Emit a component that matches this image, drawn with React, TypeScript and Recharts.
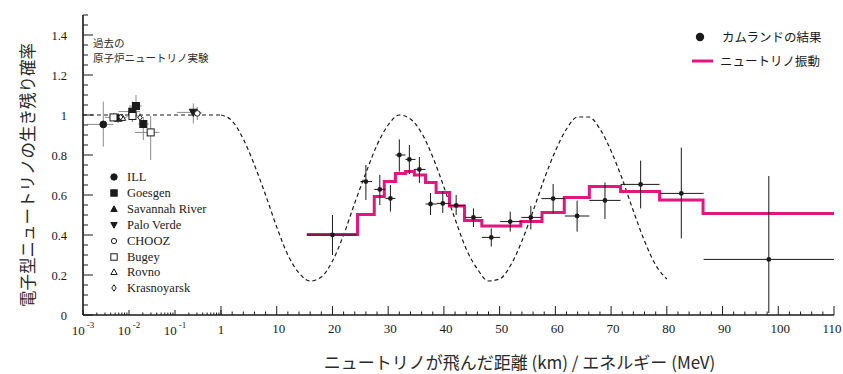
import React from 'react';
import { ComposedChart, Line, Scatter, XAxis, YAxis, ErrorBar, ReferenceLine, Legend } from 'recharts';

const SERIF = '"Liberation Serif", "Times New Roman", serif';
const JP = '"Noto Sans CJK JP", "Noto Sans", sans-serif';
const PINK = '#e5157f';
const INK = '#1a1a1a';

// ---------- main panel: KamLAND result ----------
const kamX = [20.0, 26.0, 28.5, 30.4, 32.0, 33.8, 35.6, 37.6, 39.8, 42.2, 45.3, 48.5, 51.9, 55.6, 59.6, 63.9, 68.9, 75.3, 82.6, 98.3];
const kamY = [0.40, 0.667, 0.628, 0.583, 0.80, 0.778, 0.728, 0.555, 0.558, 0.548, 0.488, 0.388, 0.467, 0.488, 0.582, 0.495, 0.573, 0.653, 0.608, 0.278];
const kamXLo = [15.4, 25.0, 27.5, 29.5, 31.3, 33.1, 34.6, 36.7, 38.7, 40.8, 43.8, 46.8, 50.1, 53.9, 57.5, 61.7, 66.1, 71.7, 78.7, 86.6];
const kamXHi = [24.4, 27.1, 29.5, 31.3, 33.1, 34.9, 36.7, 38.7, 41.1, 43.8, 46.8, 50.1, 54.0, 57.5, 61.7, 66.1, 71.7, 78.7, 86.6, 110];
const kamYLo = [0.30, 0.575, 0.55, 0.517, 0.717, 0.705, 0.66, 0.50, 0.51, 0.50, 0.44, 0.342, 0.417, 0.428, 0.508, 0.417, 0.48, 0.533, 0.383, 0.01];
const kamYHi = [0.50, 0.75, 0.70, 0.65, 0.878, 0.85, 0.79, 0.61, 0.62, 0.60, 0.533, 0.433, 0.517, 0.545, 0.655, 0.572, 0.663, 0.772, 0.837, 0.695];

// ---------- main panel: oscillation fit (step) ----------
const stepEdges = [15.4, 24.5, 27.5, 29.3, 31.3, 33.1, 34.7, 36.7, 38.6, 41.0, 43.7, 46.8, 50.1, 53.8, 57.6, 61.6, 66.1, 71.7, 78.7, 86.5, 110];
const stepValues = [0.403, 0.503, 0.592, 0.667, 0.708, 0.717, 0.70, 0.662, 0.612, 0.545, 0.472, 0.445, 0.445, 0.467, 0.513, 0.588, 0.642, 0.617, 0.575, 0.508];

// ---------- main panel: dashed oscillation curve ----------
const oscX = [0, 2, 4, 6, 8, 10, 12, 14, 16, 18, 20, 22, 24, 26, 28, 30, 32, 34, 36, 38, 40, 42, 44, 46, 48, 50, 52, 54, 56, 58, 60, 62, 64, 66, 68, 70, 72, 74, 76, 78, 80];
const oscY = [1.00, 0.97, 0.88, 0.75, 0.60, 0.44, 0.30, 0.21, 0.17, 0.19, 0.27, 0.40, 0.56, 0.71, 0.85, 0.95, 1.00, 0.98, 0.91, 0.79, 0.64, 0.48, 0.33, 0.23, 0.17, 0.18, 0.25, 0.37, 0.52, 0.68, 0.82, 0.93, 0.99, 0.99, 0.93, 0.82, 0.68, 0.52, 0.37, 0.25, 0.18];

// ---------- ticks ----------
const yTicks = [0, 0.05, 0.1, 0.15, 0.2, 0.25, 0.3, 0.35, 0.4, 0.45, 0.5, 0.55, 0.6, 0.65, 0.7, 0.75, 0.8, 0.85, 0.9, 0.95, 1, 1.05, 1.1, 1.15, 1.2, 1.25, 1.3, 1.35, 1.4, 1.45, 1.5];
const mainXTicks = [0, 2, 4, 6, 8, 10, 12, 14, 16, 18, 20, 22, 24, 26, 28, 30, 32, 34, 36, 38, 40, 42, 44, 46, 48, 50, 52, 54, 56, 58, 60, 62, 64, 66, 68, 70, 72, 74, 76, 78, 80, 82, 84, 86, 88, 90, 92, 94, 96, 98, 100, 102, 104, 106, 108, 110];
const logTicks = [0.001, 0.002, 0.003, 0.004, 0.005, 0.006, 0.007, 0.008, 0.009, 0.01, 0.02, 0.03, 0.04, 0.05, 0.06, 0.07, 0.08, 0.09, 0.1, 0.2, 0.3, 0.4, 0.5, 0.6, 0.7, 0.8, 0.9, 1];

// ---------- left panel: past reactor experiments ----------
const expNames = ['ILL', 'Goesgen', 'Savannah River', 'Palo Verde', 'CHOOZ', 'Bugey', 'Rovno', 'Krasnoyarsk'];
const illPoints = [{ x: 0.00276, y: 0.953, xLo: 0.00125, xHi: 0.0046, yLo: 0.842, yHi: 1.067 }];
const goesgenPoints = [
  { x: 0.0118, y: 1.017, xLo: 0.0059, xHi: 0.0173, yLo: 0.967, yHi: 1.067 },
  { x: 0.0142, y: 1.045, xLo: 0.0100, xHi: 0.0190, yLo: 0.99, yHi: 1.10 },
  { x: 0.0205, y: 0.955, xLo: 0.0160, xHi: 0.0270, yLo: 0.875, yHi: 0.99 },
];
const savannahPoints = [{ x: 0.0058, y: 0.985, xLo: 0.0046, xHi: 0.0075, yLo: 0.96, yHi: 1.01 }];
const paloVerdePoints = [{ x: 0.25, y: 1.013, xLo: 0.11, xHi: 0.38, yLo: 0.958, yHi: 1.058 }];
const choozPoints = [{ x: 0.305, y: 1.008, xLo: 0.25, xHi: 0.37, yLo: 0.975, yHi: 1.04 }];
const bugeyPoints = [
  { x: 0.0046, y: 0.988, xLo: 0.0030, xHi: 0.0063, yLo: 0.97, yHi: 1.01 },
  { x: 0.0119, y: 0.995, xLo: 0.0085, xHi: 0.0165, yLo: 0.965, yHi: 1.025 },
  { x: 0.0296, y: 0.913, xLo: 0.0135, xHi: 0.0456, yLo: 0.775, yHi: 0.995 },
];
const rovnoPoints = [{ x: 0.0071, y: 0.987, xLo: 0.0058, xHi: 0.0088, yLo: 0.975, yHi: 1.0 }];
const krasnoyarskPoints = [
  { x: 0.0066, y: 0.99, xLo: 0.0055, xHi: 0.0080, yLo: 0.975, yHi: 1.005 },
  { x: 0.0174, y: 0.987, xLo: 0.0150, xHi: 0.0200, yLo: 0.965, yHi: 1.01 },
];

type Kind = 'circle' | 'square' | 'triUp' | 'triDown' | 'diamond';

const drawSymbol = (kind: Kind, filled: boolean, cx: number, cy: number, s: number) => {
  const fill = filled ? INK : '#fff';
  const common = { fill, stroke: INK, strokeWidth: 1 };
  switch (kind) {
    case 'circle':
      return <circle cx={cx} cy={cy} r={s} {...common} />;
    case 'square':
      return <rect x={cx - s} y={cy - s} width={2 * s} height={2 * s} {...common} />;
    case 'triUp':
      return <polygon points={`${cx - s},${cy + s * 0.8} ${cx + s},${cy + s * 0.8} ${cx},${cy - s}`} {...common} />;
    case 'triDown':
      return <polygon points={`${cx - s},${cy - s * 0.8} ${cx + s},${cy - s * 0.8} ${cx},${cy + s}`} {...common} />;
    default:
      return <polygon points={`${cx},${cy - s} ${cx + s * 0.7},${cy} ${cx},${cy + s} ${cx - s * 0.7},${cy}`} {...common} />;
  }
};

const toErr = (pts: any[]) =>
  pts.map((p) => ({ x: p.x, y: p.y, ex: [p.x - p.xLo, p.xHi - p.x], ey: [p.y - p.yLo, p.yHi - p.y] }));

const experiments = [
  { name: expNames[0], kind: 'circle' as Kind, filled: true, size: 3.4, data: toErr(illPoints) },
  { name: expNames[1], kind: 'square' as Kind, filled: true, size: 3.5, data: toErr(goesgenPoints) },
  { name: expNames[2], kind: 'triUp' as Kind, filled: true, size: 4, data: toErr(savannahPoints) },
  { name: expNames[3], kind: 'triDown' as Kind, filled: true, size: 4, data: toErr(paloVerdePoints) },
  { name: expNames[4], kind: 'circle' as Kind, filled: false, size: 2.8, data: toErr(choozPoints) },
  { name: expNames[5], kind: 'square' as Kind, filled: false, size: 3.5, data: toErr(bugeyPoints) },
  { name: expNames[6], kind: 'triUp' as Kind, filled: false, size: 3.5, data: toErr(rovnoPoints) },
  { name: expNames[7], kind: 'diamond' as Kind, filled: false, size: 3, data: toErr(krasnoyarskPoints) },
];

const kamData = kamX.map((x, i) => ({
  x,
  y: kamY[i],
  ex: [x - kamXLo[i], kamXHi[i] - x],
  ey: [kamY[i] - kamYLo[i], kamYHi[i] - kamY[i]],
}));
const stepData = stepEdges.map((x, i) => ({ x, y: stepValues[Math.min(i, stepValues.length - 1)] }));
const oscData = oscX.map((x, i) => ({ x, y: oscY[i] }));

// ---------- tick renderers ----------
const isMajorY = (v: number) => Math.round(v * 100) % 20 === 0;
const fmtY = (v: number) => String(Math.round(v * 10) / 10);

const LeftYTick = (props: any) => {
  const { x, y, payload } = props;
  const v = payload.value;
  const major = isMajorY(v);
  return (
    <g>
      <line x1={x} x2={x + (major ? 10 : 5)} y1={y} y2={y} stroke={INK} strokeWidth={1} />
      {major && (
        <text x={x - 16} y={y + 4.5} textAnchor="end" fontFamily={SERIF} fontSize={12.5} fill={INK}>
          {fmtY(v)}
        </text>
      )}
    </g>
  );
};

const InwardLeftTick = (props: any) => {
  const { x, y, payload } = props;
  const major = isMajorY(payload.value);
  return <line x1={x} x2={x - (major ? 11 : 5)} y1={y} y2={y} stroke={INK} strokeWidth={1} />;
};

const InwardRightTick = (props: any) => {
  const { x, y, payload } = props;
  const major = isMajorY(payload.value);
  return <line x1={x} x2={x + (major ? 11 : 5)} y1={y} y2={y} stroke={INK} strokeWidth={1} />;
};

const MainXTick = (props: any) => {
  const { x, y, payload } = props;
  const v = payload.value;
  const major = v % 10 === 0;
  return (
    <g>
      <line x1={x} x2={x} y1={y} y2={y - (major ? 9 : 3.5)} stroke={INK} strokeWidth={1} />
      {major && v > 0 && (
        <text x={v === 110 ? x - 2 : x + 2} y={y + 18} textAnchor="middle" fontFamily={SERIF} fontSize={13} fill={INK}>
          {v}
        </text>
      )}
    </g>
  );
};

const logInfo = (v: number) => {
  const lg = Math.log10(v);
  const e = Math.round(lg);
  return { e, major: Math.abs(lg - e) < 1e-6 };
};

const LogTick = (props: any) => {
  const { x, y, payload } = props;
  const { e, major } = logInfo(payload.value);
  return (
    <g>
      <line x1={x} x2={x} y1={y} y2={y - (major ? 5 : 2.5)} stroke={INK} strokeWidth={1} />
      {major &&
        (e === 0 ? (
          <text x={x} y={y + 19} textAnchor="middle" fontFamily={SERIF} fontSize={13} fill={INK}>
            1
          </text>
        ) : (
          <text x={x} y={y + 20} textAnchor="middle" fontFamily={SERIF} fontSize={13} fill={INK}>
            10
            <tspan dx={2} dy={-7} fontSize={9}>
              {String(e)}
            </tspan>
          </text>
        ))}
    </g>
  );
};

const LogTopTick = (props: any) => {
  const { x, y, payload } = props;
  const { major } = logInfo(payload.value);
  return <line x1={x} x2={x} y1={y} y2={y + (major ? 5 : 2.5)} stroke={INK} strokeWidth={1} />;
};

const YTitle = (props: any) => {
  const vb = props.viewBox || { x: 0, y: 15, width: 83, height: 300 };
  const cx = vb.x + 27;
  const cy = vb.y + vb.height / 2 + 10;
  return (
    <text
      x={cx}
      y={cy}
      transform={`rotate(-90, ${cx}, ${cy})`}
      textAnchor="middle"
      dominantBaseline="central"
      fontFamily={JP}
      fontSize={16.5}
      fill="#2a2a2a"
    >
      電子型ニュートリノの生き残り確率
    </text>
  );
};

const XTitle = (props: any) => {
  const vb = props.viewBox || { x: 221, y: 315, width: 613, height: 59 };
  return (
    <text
      x={vb.x + vb.width / 2 - 8}
      y={vb.y + 54}
      textAnchor="middle"
      fontFamily={JP}
      fontSize={17}
      fill="#2a2a2a"
    >
      ニュートリノが飛んだ距離 (km) / エネルギー (MeV)
    </text>
  );
};

const LeftLegend = () => (
  <div style={{ position: 'relative', width: 230, height: 300 }}>
    <div
      style={{
        position: 'absolute',
        left: 93,
        top: 35,
        fontFamily: JP,
        fontSize: 10.5,
        lineHeight: '15px',
        color: '#2a2a2a',
        whiteSpace: 'nowrap',
      }}
    >
      過去の
      <br />
      原子炉ニュートリノ実験
    </div>
    {experiments.map((e, i) => (
      <div
        key={e.name}
        style={{ position: 'absolute', left: 108, top: 169 + i * 15.9, height: 16, display: 'flex', alignItems: 'center' }}
      >
        <svg width={14} height={16} style={{ display: 'block' }}>
          {drawSymbol(e.kind, e.filled, 6, 8, e.kind === 'circle' && !e.filled ? 2.6 : 3.2)}
        </svg>
        <span
          style={{ marginLeft: 5, fontFamily: SERIF, fontSize: 12.5, color: INK, whiteSpace: 'nowrap', lineHeight: '16px' }}
        >
          {e.name}
        </span>
      </div>
    ))}
  </div>
);

const MainLegend = () => (
  <div style={{ position: 'relative', width: 140, height: 48, fontFamily: JP, fontSize: 12.5, color: INK }}>
    <svg width={22} height={48} style={{ position: 'absolute', left: 0, top: 0 }}>
      <circle cx={8} cy={12} r={4.2} fill={INK} />
      <line x1={0} x2={21} y1={36} y2={36} stroke={PINK} strokeWidth={3} />
    </svg>
    <span style={{ position: 'absolute', left: 30, top: 4, lineHeight: '16px', whiteSpace: 'nowrap' }}>カムランドの結果</span>
    <span style={{ position: 'absolute', left: 28, top: 28, lineHeight: '16px', whiteSpace: 'nowrap' }}>ニュートリノ振動</span>
  </div>
);

const axisStroke = { stroke: INK, strokeWidth: 1.6 };

const renderExperiment = (e: (typeof experiments)[number]) => (
  <Scatter
    key={e.name}
    name={e.name}
    data={e.data}
    xAxisId="b"
    yAxisId="l"
    dataKey="y"
    isAnimationActive={false}
    shape={(p: any) => drawSymbol(e.kind, e.filled, p.cx, p.cy, e.size)}
  >
    <ErrorBar dataKey="ex" direction="x" width={0} stroke="#8a8a8a" strokeWidth={1} />
    <ErrorBar dataKey="ey" direction="y" width={0} stroke="#8a8a8a" strokeWidth={1} />
  </Scatter>
);

export default function App() {
  return (
    <div style={{ position: 'absolute', left: 0, top: 0, width: 843, height: 374, background: '#fff', overflow: 'hidden' }}>
      {/* left panel: log scale, past experiments */}
      <div style={{ position: 'absolute', left: 0, top: 0 }}>
        <ComposedChart width={230} height={374} margin={{ top: 15, right: 9, bottom: 0, left: 0 }}>
          <XAxis
            xAxisId="b"
            dataKey="x"
            type="number"
            scale="log"
            domain={[0.001, 1]}
            allowDataOverflow
            ticks={logTicks}
            interval={0}
            tick={<LogTick />}
            tickLine={false}
            tickSize={0}
            tickMargin={0}
            height={59}
            axisLine={axisStroke}
          />
          <XAxis
            xAxisId="t"
            orientation="top"
            type="number"
            scale="log"
            domain={[0.001, 1]}
            allowDataOverflow
            ticks={logTicks}
            interval={0}
            tick={<LogTopTick />}
            tickLine={false}
            tickSize={0}
            tickMargin={0}
            height={0}
            axisLine={axisStroke}
          />
          <YAxis
            yAxisId="l"
            dataKey="y"
            type="number"
            domain={[0, 1.5]}
            allowDataOverflow
            ticks={yTicks}
            interval={0}
            tick={<LeftYTick />}
            tickLine={false}
            tickSize={0}
            tickMargin={0}
            width={83}
            axisLine={axisStroke}
            label={{ content: YTitle }}
          />
          <YAxis
            yAxisId="r"
            orientation="right"
            type="number"
            domain={[0, 1.5]}
            allowDataOverflow
            ticks={yTicks}
            interval={0}
            tick={<InwardLeftTick />}
            tickLine={false}
            tickSize={0}
            tickMargin={0}
            width={0}
            axisLine={axisStroke}
          />
          <ReferenceLine xAxisId="b" yAxisId="l" y={1} stroke={INK} strokeWidth={1.2} strokeDasharray="4 3" />
          {experiments.map((e) => renderExperiment(e))}
          <Legend
            layout="vertical"
            verticalAlign="middle"
            align="center"
            wrapperStyle={{ position: 'absolute', left: 0, top: 0, width: 230, height: 300 }}
            content={() => <LeftLegend />}
          />
        </ComposedChart>
      </div>

      {/* main panel: linear L/E */}
      <div style={{ position: 'absolute', left: 211, top: 0 }}>
        <ComposedChart width={632} height={374} margin={{ top: 15, right: 9, bottom: 0, left: 10 }}>
          <XAxis
            dataKey="x"
            type="number"
            domain={[0, 110]}
            allowDataOverflow
            ticks={mainXTicks}
            interval={0}
            tick={<MainXTick />}
            tickLine={false}
            tickSize={0}
            tickMargin={0}
            height={59}
            axisLine={axisStroke}
            label={{ content: XTitle }}
          />
          <XAxis
            xAxisId="t"
            orientation="top"
            type="number"
            domain={[0, 110]}
            allowDataOverflow
            tick={false}
            tickLine={false}
            height={0}
            axisLine={axisStroke}
          />
          <YAxis
            dataKey="y"
            type="number"
            domain={[0, 1.5]}
            allowDataOverflow
            ticks={yTicks}
            interval={0}
            tick={<InwardRightTick />}
            tickLine={false}
            tickSize={0}
            tickMargin={0}
            width={0}
            axisLine={axisStroke}
          />
          <YAxis
            yAxisId="r"
            orientation="right"
            type="number"
            domain={[0, 1.5]}
            allowDataOverflow
            tick={false}
            tickLine={false}
            width={0}
            axisLine={axisStroke}
          />
          <Line
            data={oscData}
            dataKey="y"
            type="monotone"
            stroke={INK}
            strokeWidth={1.2}
            strokeDasharray="4 3"
            dot={false}
            activeDot={false}
            isAnimationActive={false}
          />
          <Line
            data={stepData}
            dataKey="y"
            type="stepAfter"
            stroke={PINK}
            strokeWidth={3}
            dot={false}
            activeDot={false}
            isAnimationActive={false}
          />
          <Scatter
            name="カムランドの結果"
            data={kamData}
            dataKey="y"
            isAnimationActive={false}
            shape={(p: any) => <circle cx={p.cx} cy={p.cy} r={2.4} fill={INK} />}
          >
            <ErrorBar dataKey="ex" direction="x" width={0} stroke={INK} strokeWidth={1} />
            <ErrorBar dataKey="ey" direction="y" width={0} stroke={INK} strokeWidth={1} />
          </Scatter>
          <Legend
            layout="vertical"
            verticalAlign="middle"
            align="center"
            wrapperStyle={{ position: 'absolute', left: 481, top: 25, width: 140, height: 48 }}
            content={() => <MainLegend />}
          />
        </ComposedChart>
      </div>
    </div>
  );
}
